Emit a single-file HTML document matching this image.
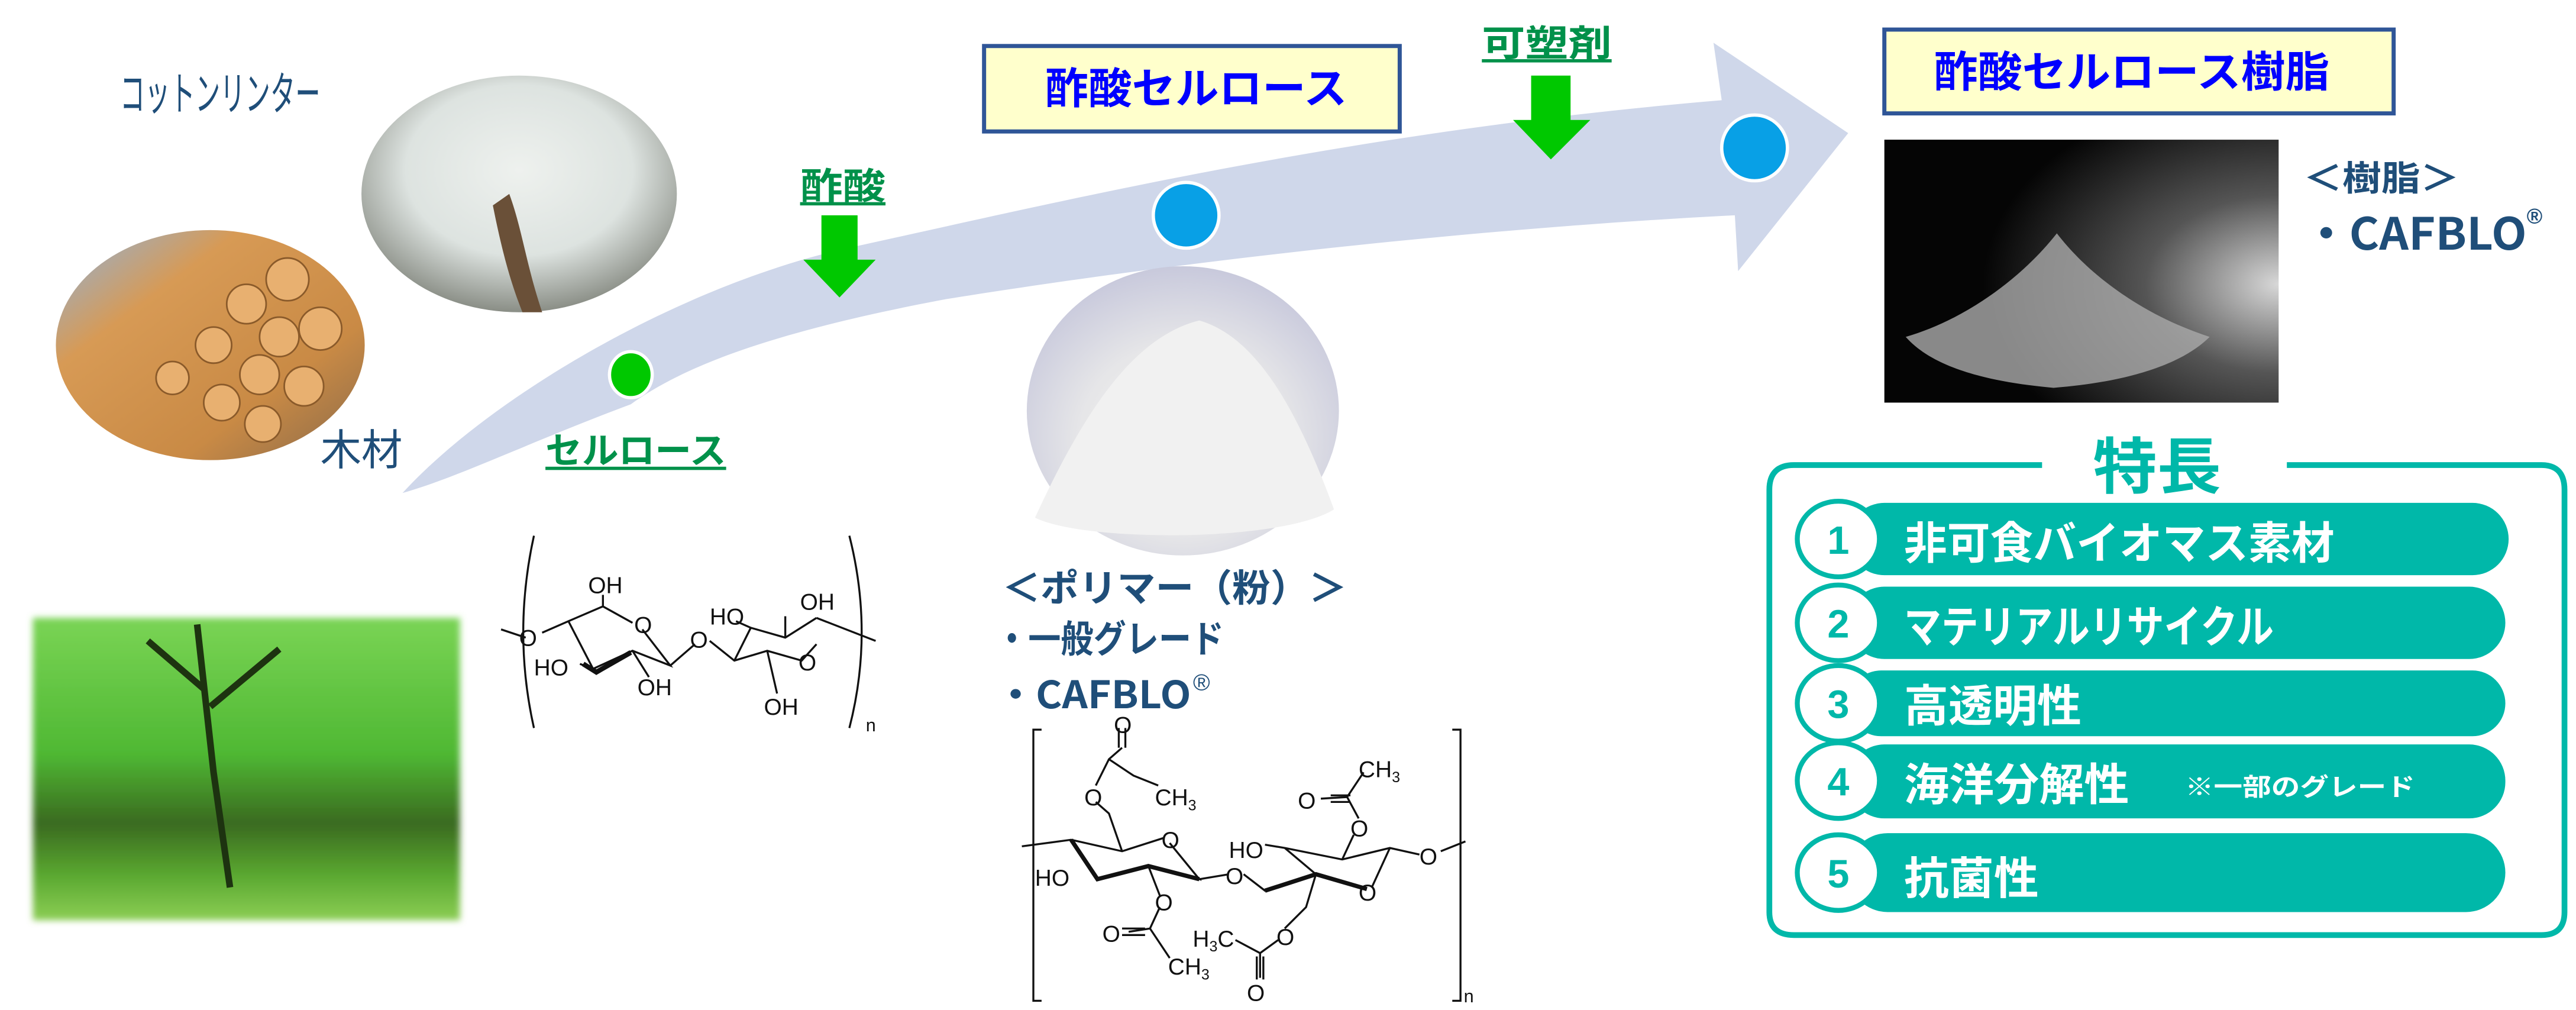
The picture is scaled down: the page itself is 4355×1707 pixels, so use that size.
<!DOCTYPE html>
<html><head><meta charset="utf-8"><style>
html,body{margin:0;padding:0;background:#fff;width:4355px;height:1707px;overflow:hidden}
svg{display:block}
text{font-family:"Liberation Sans","Noto Sans CJK JP",sans-serif}
.j{font-family:"Noto Sans CJK JP","Liberation Sans",sans-serif;font-weight:bold}
.c{font-family:"Liberation Sans",sans-serif;font-size:14px;fill:#111}
</style></head><body>
<svg width="4355" height="1707" viewBox="0 0 1568 614.6" xmlns="http://www.w3.org/2000/svg">
<defs>
<radialGradient id="cot" cx="50%" cy="40%" r="60%"><stop offset="0" stop-color="#eef1ee"/><stop offset="0.6" stop-color="#dde3e0"/><stop offset="1" stop-color="#8a8e86"/></radialGradient>
<linearGradient id="wood" x1="0" y1="0" x2="1" y2="1"><stop offset="0" stop-color="#8fb3dc"/><stop offset="0.3" stop-color="#d79a55"/><stop offset="0.7" stop-color="#c98a45"/><stop offset="1" stop-color="#8a6a4a"/></linearGradient>
<radialGradient id="pow" cx="50%" cy="60%" r="60%"><stop offset="0" stop-color="#f2f2f2"/><stop offset="0.55" stop-color="#e6e6e8"/><stop offset="1" stop-color="#c8c9dc"/></radialGradient>
<radialGradient id="resin" cx="100%" cy="55%" r="75%"><stop offset="0" stop-color="#d8d8d8"/><stop offset="0.45" stop-color="#555"/><stop offset="1" stop-color="#050505"/></radialGradient>
<linearGradient id="forest" x1="0" y1="0" x2="0" y2="1"><stop offset="0" stop-color="#7ad455"/><stop offset="0.45" stop-color="#4fb833"/><stop offset="0.68" stop-color="#3a6a20"/><stop offset="0.85" stop-color="#5aa830"/><stop offset="1" stop-color="#8cce55"/></linearGradient>
<filter id="blur"><feGaussianBlur stdDeviation="2"/></filter>
</defs>

<path d="M245,300 C300,240 420,170 525,149 C640,124 820,80 1048,61 L1043,26 L1125,81 L1058,165 L1056,131 C880,140 700,162 576,182 C480,200 420,220 384,246 C320,270 280,290 245,300 Z" fill="#cfd7ea"/>

<text x="73" y="67" font-size="28" fill="#1f4e79" textLength="122" lengthAdjust="spacingAndGlyphs">コットンリンター</text>
<ellipse cx="316" cy="118" rx="96" ry="72" fill="url(#cot)"/>
<path d="M300,125 C305,150 310,170 318,190 L330,190 C320,160 318,140 310,118 Z" fill="#6a5038"/>
<ellipse cx="128" cy="210" rx="94" ry="70" fill="url(#wood)"/>
<g fill="#e8b070" stroke="#8a5a2a" stroke-width="1">
<circle cx="175" cy="170" r="13"/><circle cx="195" cy="200" r="13"/><circle cx="170" cy="205" r="12"/><circle cx="150" cy="185" r="12"/><circle cx="185" cy="235" r="12"/><circle cx="158" cy="228" r="12"/><circle cx="130" cy="210" r="11"/><circle cx="135" cy="245" r="11"/><circle cx="105" cy="230" r="10"/><circle cx="160" cy="258" r="11"/>
</g>
<text x="195" y="283" font-size="26" fill="#1f4e79" textLength="50" lengthAdjust="spacingAndGlyphs">木材</text>
<rect x="20" y="376" width="260" height="184" fill="url(#forest)" filter="url(#blur)"/>
<path d="M120,380 L130,470 L140,540 M125,420 L90,390 M128,430 L170,395" stroke="#1d3310" stroke-width="4" fill="none"/>

<ellipse cx="384" cy="228" rx="13" ry="14" fill="#00c800" stroke="#fff" stroke-width="2"/>
<circle cx="722" cy="131" r="20" fill="#08a0e6" stroke="#fff" stroke-width="2"/>
<circle cx="1068" cy="90" r="20" fill="#08a0e6" stroke="#fff" stroke-width="2"/>

<text class="j" x="487" y="121" font-size="22" fill="#00914a" textLength="52" lengthAdjust="spacingAndGlyphs">酢酸</text>
<rect x="487" y="123" width="52" height="2" fill="#00914a"/>
<path d="M500,131 H522 V158 H533 L511,181 L489,158 H500 Z" fill="#00c800"/>
<text class="j" x="332" y="282" font-size="22" fill="#00914a" textLength="110" lengthAdjust="spacingAndGlyphs">セルロース</text>
<rect x="332" y="284" width="110" height="2" fill="#00914a"/>
<text class="j" x="902" y="34" font-size="22" fill="#00914a" textLength="79" lengthAdjust="spacingAndGlyphs">可塑剤</text>
<rect x="902" y="36" width="79" height="2" fill="#00914a"/>
<path d="M932,46 H956 V73 H968 L944,97 L921,73 H932 Z" fill="#00c800"/>

<rect x="599" y="28" width="253" height="52" fill="#ffffcc" stroke="#2f5597" stroke-width="2.5"/>
<text class="j" x="636" y="63" font-size="26" fill="#0000ff" textLength="184" lengthAdjust="spacingAndGlyphs">酢酸セルロース</text>
<rect x="1147" y="18" width="310" height="51" fill="#ffffcc" stroke="#2f5597" stroke-width="2.5"/>
<text class="j" x="1177" y="53" font-size="26" fill="#0000ff" textLength="241" lengthAdjust="spacingAndGlyphs">酢酸セルロース樹脂</text>

<ellipse cx="720" cy="250" rx="95" ry="88" fill="url(#pow)"/>
<path d="M630,315 C660,250 690,205 730,195 C765,205 790,250 812,310 C780,330 660,330 630,315 Z" fill="#f1f1f1"/>

<rect x="1147" y="85" width="240" height="160" fill="url(#resin)"/>
<path d="M1160,205 C1195,195 1230,170 1252,142 C1272,168 1305,192 1345,205 C1330,220 1300,232 1250,236 C1205,232 1175,222 1160,205 Z" fill="#aaa" opacity="0.8"/>
<text class="j" x="1402" y="116" font-size="21" fill="#1f4e79" textLength="95" lengthAdjust="spacingAndGlyphs">＜樹脂＞</text>
<text class="j" x="1402" y="152" font-size="27" fill="#1f4e79" textLength="136" lengthAdjust="spacingAndGlyphs">・CAFBLO</text>
<text x="1538" y="136" font-size="13" fill="#1f4e79" font-weight="bold">®</text>

<text class="j" x="610" y="366" font-size="23" fill="#1f4e79" textLength="210" lengthAdjust="spacingAndGlyphs">＜ポリマー（粉）＞</text>
<text class="j" x="606" y="397" font-size="23" fill="#1f4e79" textLength="139" lengthAdjust="spacingAndGlyphs">・一般グレード</text>
<text class="j" x="606" y="431" font-size="23" fill="#1f4e79" textLength="119" lengthAdjust="spacingAndGlyphs">・CAFBLO</text>
<text x="726" y="420" font-size="14" fill="#1f4e79" font-style="italic">®</text>

<g stroke="#111" stroke-width="1.2" fill="none">
<path d="M325,326 Q312,385 325,443"/>
<path d="M517,326 Q532,385 517,443"/>
<path d="M305,383 L320,388 M330,385 L346,378 L361,407 L385,396 L408,405 L391,383 M346,378 L367,369 L385,379 M367,369 L367,362 M361,407 L353,404 M385,396 L395,412 M408,405 L423,392 M432,390 L447,402 L467,396 L488,402 L497,392 M447,402 L457,382 L478,388 L497,376 M457,382 L448,378 M478,388 L478,375 M467,396 L473,422 M497,376 L533,390"/>
<path d="M355,404 L363,409 L384,397" stroke-width="3"/>
</g>
<g class="c">
<text x="358" y="361">OH</text><text x="386" y="385">O</text><text x="316" y="393">O</text>
<text x="325" y="411">HO</text><text x="388" y="423">OH</text><text x="420" y="394">O</text>
<text x="432" y="380">HO</text><text x="487" y="371">OH</text><text x="486" y="408">O</text>
<text x="465" y="435">OH</text><text x="527" y="445" font-size="11">n</text>
</g>

<g stroke="#111" stroke-width="1.2" fill="none">
<path d="M634,444 H629 V609 H634 M884,444 H889 V609 H884"/>
<path d="M622,515 L652,511 L683,518 L708,510 M712,513 L730,535 L699,527 L668,535 L652,511 M683,518 L675,495 L667,488 M667,478 L675,462 L683,455 M675,462 L690,472 L705,478 M730,535 L748,532 M757,532 L770,542 L801,532 L782,516 L817,523 L846,516 L864,520 M877,518 L892,512 M801,532 L832,541 M782,516 L770,514 M817,523 L824,508 M827,498 L820,485 L830,470 M820,485 L804,486 M699,527 L706,545 M706,552 L700,565 L687,567 M700,565 L712,583 M801,532 L795,552 L782,565 M778,572 L767,580 L752,572 M767,580 L767,595 M846,516 L835,540"/>
<path d="M681,455 V443 M685,455 V443" />
<path d="M810,484 H822 M810,488 H822 M683,565 H697 M683,569 H697 M765,582 V596 M769,582 V596"/>
<path d="M652,511 L668,535 L699,527 L730,535" stroke-width="2.6"/>
<path d="M770,542 L801,532 L832,541" stroke-width="2.6"/>
</g>
<g class="c">
<text x="678" y="446">O</text><text x="660" y="490">O</text><text x="703" y="490">CH<tspan font-size="9" dy="3">3</tspan></text>
<text x="707" y="516">O</text><text x="630" y="539">HO</text><text x="746" y="538">O</text>
<text x="748" y="522">HO</text><text x="822" y="509">O</text><text x="790" y="492">O</text>
<text x="827" y="473">CH<tspan font-size="9" dy="3">3</tspan></text><text x="864" y="526">O</text><text x="827" y="548">O</text>
<text x="703" y="554">O</text><text x="671" y="573">O</text><text x="711" y="593">CH<tspan font-size="9" dy="3">3</tspan></text>
<text x="726" y="576">H<tspan font-size="9" dy="3">3</tspan><tspan dy="-3">C</tspan></text><text x="777" y="575">O</text><text x="759" y="609">O</text>
<text x="891" y="610" font-size="11">n</text>
</g>

<path d="M1243,283 H1092 Q1077,283 1077,298 V555 Q1077,569 1092,569 H1547 Q1561,569 1561,555 V298 Q1561,283 1547,283 H1392" fill="none" stroke="#00b8a9" stroke-width="3.5"/>
<text class="j" x="1274" y="297" font-size="37" fill="#00b8a9" textLength="78" lengthAdjust="spacingAndGlyphs">特長</text>
<g fill="#00b8a9">
<rect x="1125" y="306" width="402" height="44" rx="22"/>
<rect x="1125" y="357" width="400" height="44" rx="22"/>
<rect x="1125" y="408" width="400" height="40" rx="20"/>
<rect x="1125" y="453" width="400" height="45" rx="22"/>
<rect x="1125" y="507" width="400" height="48" rx="24"/>
</g>
<g fill="#fff" stroke="#00b8a9" stroke-width="3">
<ellipse cx="1119" cy="328" rx="25" ry="23"/>
<ellipse cx="1119" cy="379" rx="25" ry="23"/>
<ellipse cx="1119" cy="428" rx="25" ry="23"/>
<ellipse cx="1119" cy="475" rx="25" ry="23"/>
<ellipse cx="1119" cy="531" rx="25" ry="23"/>
</g>
<g class="j" font-size="24" fill="#00b8a9" text-anchor="middle">
<text x="1119" y="337">1</text><text x="1119" y="388">2</text><text x="1119" y="437">3</text><text x="1119" y="484">4</text><text x="1119" y="540">5</text>
</g>
<g class="j" font-size="27" fill="#fff">
<text x="1159" y="340" textLength="262" lengthAdjust="spacingAndGlyphs">非可食バイオマス素材</text>
<text x="1159" y="391" textLength="225" lengthAdjust="spacingAndGlyphs">マテリアルリサイクル</text>
<text x="1159" y="439" textLength="108" lengthAdjust="spacingAndGlyphs">高透明性</text>
<text x="1159" y="487" textLength="137" lengthAdjust="spacingAndGlyphs">海洋分解性</text>
<text x="1330" y="484" font-size="15" textLength="140" lengthAdjust="spacingAndGlyphs">※一部のグレード</text>
<text x="1159" y="544" textLength="82" lengthAdjust="spacingAndGlyphs">抗菌性</text>
</g>
</svg>
</body></html>
